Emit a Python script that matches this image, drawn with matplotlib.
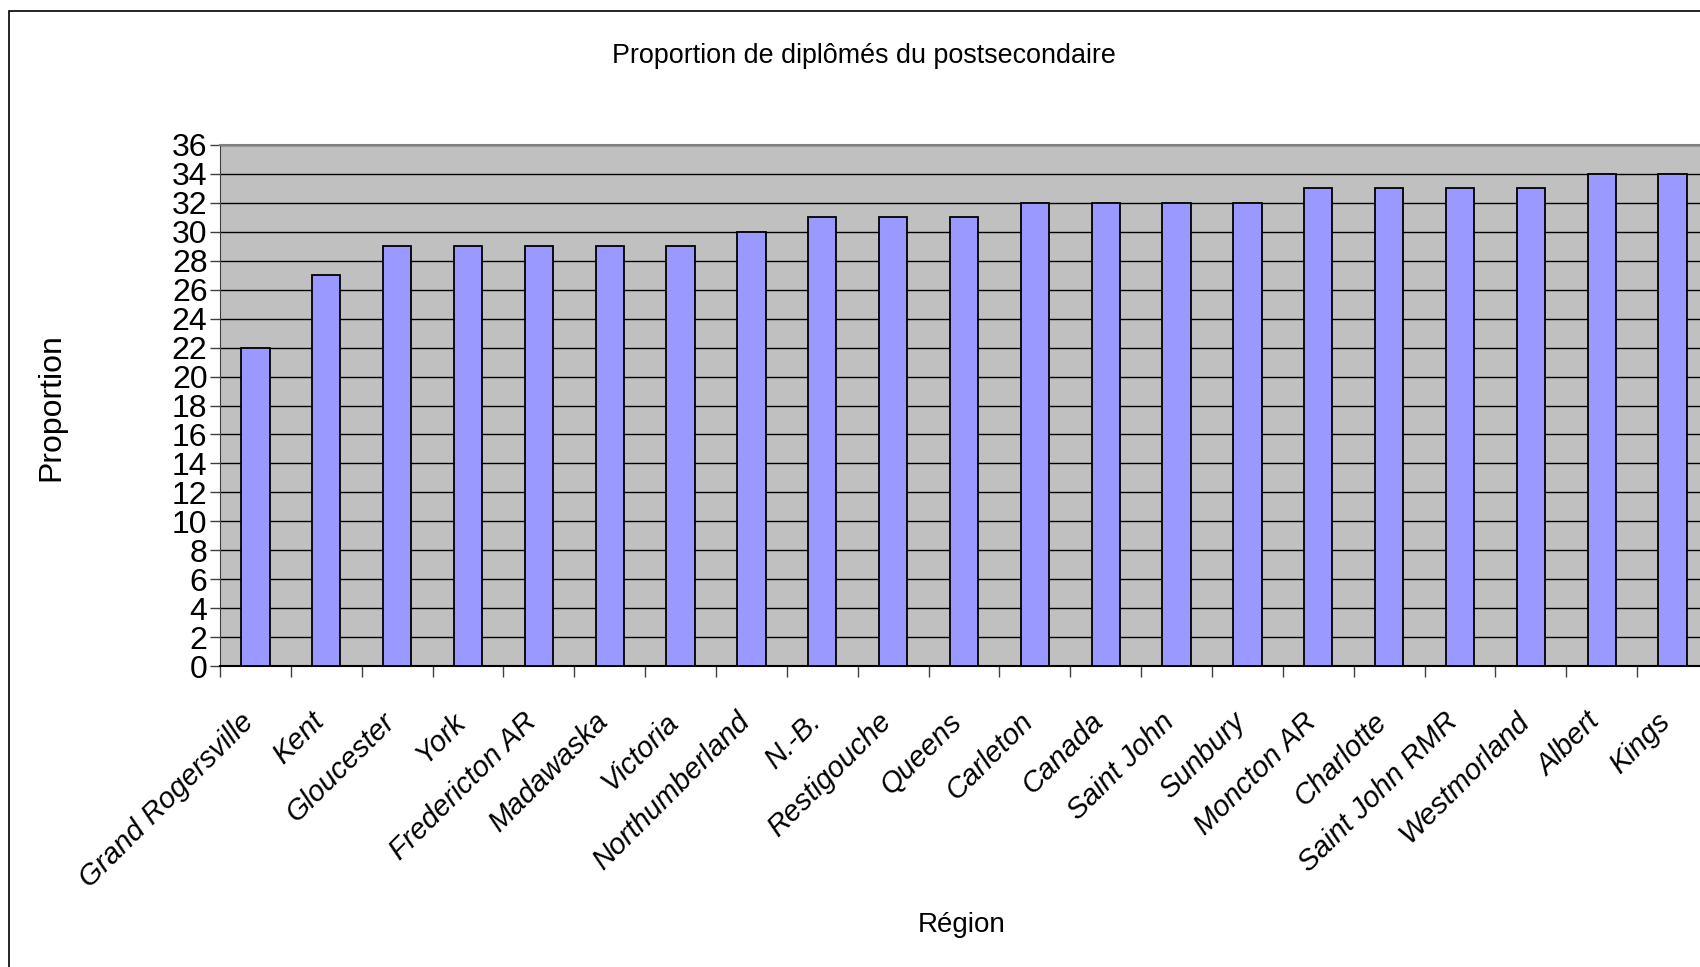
import matplotlib
matplotlib.use("Agg")
import matplotlib.pyplot as plt
import matplotlib.transforms as mtransforms
from matplotlib.patches import Rectangle
import numpy as np

regions = ["Grand Rogersville", "Kent", "Gloucester", "York", "Fredericton AR",
           "Madawaska", "Victoria", "Northumberland", "N.-B.", "Restigouche",
           "Queens", "Carleton", "Canada", "Saint John", "Sunbury", "Moncton AR",
           "Charlotte", "Saint John RMR", "Westmorland", "Albert", "Kings"]
values = [22, 27, 29, 29, 29, 29, 29, 30, 31, 31, 31, 32, 32, 32, 32, 33, 33, 33, 33, 34, 34]
yticks = list(range(0, 37, 2))

regular = ['Liberation Sans', 'DejaVu Sans']

W, H = 1700, 967
fig = plt.figure(figsize=(W / 100, H / 100), dpi=100)
fig.patch.set_facecolor('white')

# outer chart border (left and top visible)
fig.add_artist(Rectangle((9 / W, -0.05), 1.1, 1 - 11 / H + 0.05, transform=fig.transFigure,
                         fill=False, edgecolor='black', linewidth=1.2))

left, right, top, bottom = 220, 1708, 145, 666
ax = fig.add_axes([left / W, 1 - bottom / H, (right - left) / W, (bottom - top) / H])
ax.set_facecolor('#C0C0C0')
x = np.arange(len(regions))
ax.bar(x, values, width=0.4, color='#9999FF', edgecolor='black', linewidth=1.3, zorder=3)
ax.set_xlim(-0.5, len(regions) - 0.5)
ax.set_ylim(0, 36)
ax.set_yticks(yticks)
ax.set_yticklabels([str(v) for v in yticks], fontfamily=regular, fontsize=23)
ax.yaxis.grid(True, color='black', linewidth=1.0, zorder=1)
ax.set_axisbelow(True)

# category labels: placed as rotated text anchored below each category centre
ax.set_xticks([])
ax.set_xticks(np.arange(len(regions) + 1) - 0.5, minor=True)
shift = mtransforms.ScaledTranslation(-4.5 / 72, -37 / 72, fig.dpi_scale_trans)
for xi, lab in zip(x, regions):
    ax.text(xi, 0, lab, transform=ax.get_xaxis_transform() + shift,
            rotation=45, ha='right', va='center', rotation_mode='anchor',
            fontfamily=regular, fontstyle='italic', fontsize=21, clip_on=False)
ax.tick_params(axis='x', which='minor', length=8, width=1, color='#404040', direction='out')
ax.tick_params(axis='y', length=7, width=1, color='#404040', direction='out', pad=2)

for s in ['top', 'right']:
    ax.spines[s].set_color('#808080')
    ax.spines[s].set_linewidth(1.5)
ax.spines['left'].set_color('#404040')
ax.spines['bottom'].set_color('black')
ax.spines['bottom'].set_linewidth(1.5)

fig.text(864 / W, 1 - 56 / H, "Proportion de diplômés du postsecondaire", ha='center', va='center',
         fontfamily=regular, fontsize=19.4)
fig.text(51 / W, 1 - 407 / H, "Proportion", ha='center', va='center', rotation=90,
         fontfamily=regular, fontsize=23)
fig.text(962 / W, 1 - 925 / H, "Région", ha='center', va='center',
         fontfamily=regular, fontsize=20)

fig.savefig("out.png", dpi=100)
